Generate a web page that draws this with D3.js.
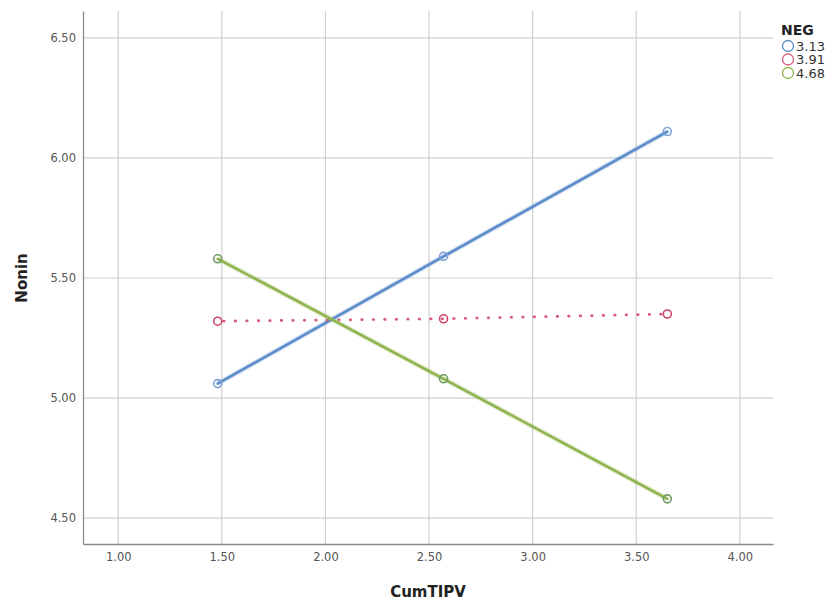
<!DOCTYPE html>
<html>
<head>
<meta charset="utf-8">
<script src="https://cdn.jsdelivr.net/npm/d3@7"></script>
<style>
  body { margin: 0; background: #fff; }
  text { font-family: "DejaVu Sans", "Open Sans", sans-serif; }
</style>
</head>
<body>
<div id="chart"></div>
<script>
// data
var xValues = [1.48, 2.57, 3.65];
var negLevels = ["3.13", "3.91", "4.68"];
var seriesLow = [5.06, 5.59, 6.11];
var seriesMid = [5.32, 5.33, 5.35];
var seriesHigh = [5.58, 5.08, 4.58];
var xTicks = [1.00, 1.50, 2.00, 2.50, 3.00, 3.50, 4.00];
var yTicks = [4.50, 5.00, 5.50, 6.00, 6.50];

var svgWidth = 827;
var svgHeight = 606;

var margin = { top: 11, right: 54, bottom: 62, left: 83 };
var width = svgWidth - margin.left - margin.right;
var height = svgHeight - margin.top - margin.bottom;

var svg = d3.select("#chart")
  .append("svg")
  .attr("width", svgWidth)
  .attr("height", svgHeight);

var chartGroup = svg.append("g")
  .attr("transform", `translate(${margin.left}, ${margin.top})`);

var xScale = d3.scaleLinear()
  .domain([0.83, 4.16])
  .range([0, width]);

var yScale = d3.scaleLinear()
  .domain([4.392, 6.612])
  .range([height, 0]);

// grid lines
chartGroup.append("g").selectAll("line")
  .data(xTicks)
  .enter()
  .append("line")
  .attr("x1", d => xScale(d))
  .attr("x2", d => xScale(d))
  .attr("y1", 0)
  .attr("y2", height)
  .attr("stroke", "#cfcfcf")
  .attr("stroke-width", 1.2);

chartGroup.append("g").selectAll("line")
  .data(yTicks)
  .enter()
  .append("line")
  .attr("x1", 0)
  .attr("x2", width)
  .attr("y1", d => yScale(d))
  .attr("y2", d => yScale(d))
  .attr("stroke", "#cfcfcf")
  .attr("stroke-width", 1.2);

// axes
var bottomAxis = d3.axisBottom(xScale)
  .tickValues(xTicks)
  .tickFormat(d3.format(".2f"))
  .tickSize(0)
  .tickPadding(9);

var leftAxis = d3.axisLeft(yScale)
  .tickValues(yTicks)
  .tickFormat(d3.format(".2f"))
  .tickSize(0)
  .tickPadding(7);

var xAxis = chartGroup.append("g")
  .attr("transform", `translate(0, ${height})`)
  .call(bottomAxis);

var yAxis = chartGroup.append("g")
  .call(leftAxis);

[xAxis, yAxis].forEach(function(ax) {
  ax.select(".domain").attr("stroke", "#8a8a8a").attr("stroke-width", 1.3);
  ax.selectAll("text")
    .attr("fill", "#555")
    .style("font-size", "11.5px");
});

// axis titles
svg.append("text")
  .attr("x", margin.left + width / 2)
  .attr("y", 597)
  .attr("text-anchor", "middle")
  .style("font-size", "15px")
  .style("font-weight", "bold")
  .attr("fill", "#222")
  .text("CumTIPV");

svg.append("text")
  .attr("transform", `translate(27, ${yScale(5.5) + margin.top})rotate(-90)`)
  .attr("text-anchor", "middle")
  .style("font-size", "15px")
  .style("font-weight", "bold")
  .attr("fill", "#222")
  .text("Nonin");

// series
var series = [
  { name: negLevels[0], values: seriesLow, color: "#5b8ccb", point: "#7fa3d6", dash: null, width: 2.6 },
  { name: negLevels[1], values: seriesMid, color: "#d65b7c", point: "#cc4466", dash: "0.5,11", width: 2.8 },
  { name: negLevels[2], values: seriesHigh, color: "#8fb34c", point: "#6f9a66", dash: null, width: 2.6 }
];

var line = d3.line()
  .x((d, i) => xScale(xValues[i]))
  .y(d => yScale(d));

var seriesGroup = chartGroup.append("g");

series.forEach(function(s) {
  // soft halo like the original rendering
  if (!s.dash) {
    seriesGroup.append("path")
      .attr("d", line(s.values))
      .attr("fill", "none")
      .attr("stroke", s.color)
      .attr("stroke-opacity", 0.25)
      .attr("stroke-width", s.width + 2.5);
  }
  seriesGroup.append("path")
    .attr("d", line(s.values))
    .attr("fill", "none")
    .attr("stroke", s.color)
    .attr("stroke-width", s.width)
    .attr("stroke-linecap", "round")
    .attr("stroke-dasharray", s.dash)
    .attr("stroke-dashoffset", s.dash ? -6 : null);

  seriesGroup.selectAll(null)
    .data(s.values)
    .enter()
    .append("circle")
    .attr("cx", (d, i) => xScale(xValues[i]))
    .attr("cy", d => yScale(d))
    .attr("r", 4)
    .attr("fill", "none")
    .attr("stroke", s.point)
    .attr("stroke-width", 1.6);
});

// legend
var legend = svg.append("g");

legend.append("text")
  .attr("x", 781)
  .attr("y", 35)
  .style("font-size", "14px")
  .style("font-weight", "bold")
  .attr("fill", "#222")
  .text("NEG");

var legendItems = legend.selectAll("g.item")
  .data(series)
  .enter()
  .append("g")
  .attr("transform", (d, i) => `translate(788, ${46 + i * 13.5})`);

legendItems.append("circle")
  .attr("r", 5.5)
  .attr("fill", "none")
  .attr("stroke", d => d.color)
  .attr("stroke-width", 1.3);

legendItems.append("text")
  .attr("x", 8)
  .attr("y", 4.5)
  .style("font-size", "13px")
  .attr("fill", "#333")
  .text(d => d.name);
</script>
</body>
</html>
